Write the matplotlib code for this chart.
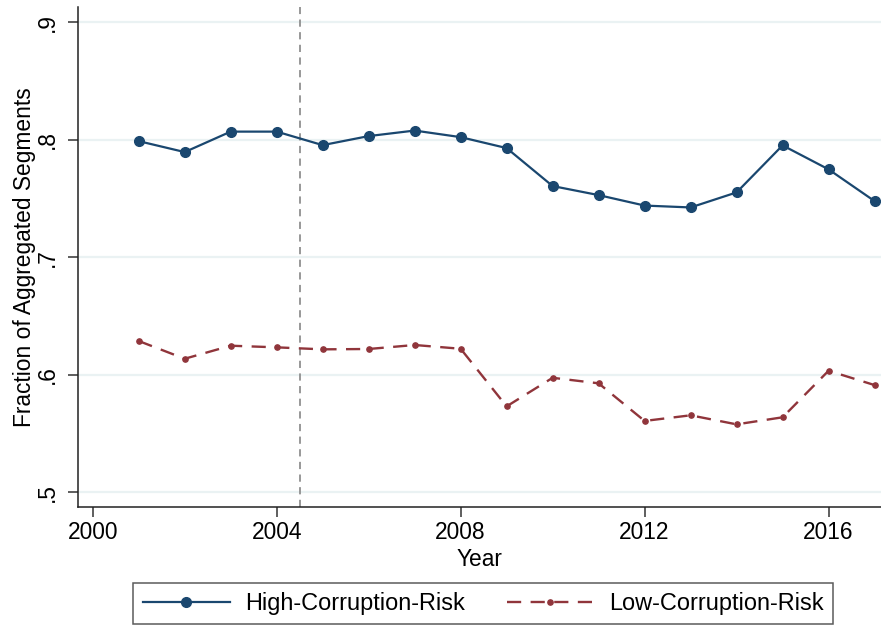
import numpy as np
import matplotlib.pyplot as plt

plt.rcParams['font.family'] = ['Liberation Sans', 'DejaVu Sans']

# Share of aggregated segments by year and corruption-risk group
years = [2001, 2002, 2003, 2004, 2005, 2006, 2007, 2008, 2009,
         2010, 2011, 2012, 2013, 2014, 2015, 2016, 2017]
high_risk = [0.7987, 0.7894, 0.8068, 0.8068, 0.7953, 0.8030, 0.8077, 0.8021, 0.7928,
             0.7605, 0.7528, 0.7439, 0.7423, 0.7551, 0.7951, 0.7747, 0.7477]
low_risk = [0.6287, 0.6136, 0.6247, 0.6233, 0.6216, 0.6219, 0.6253, 0.6221, 0.5731,
            0.5974, 0.5927, 0.5607, 0.5655, 0.5578, 0.5638, 0.6034, 0.5912]
x_ticks = [2000, 2004, 2008, 2012, 2016]
y_ticks = [0.5, 0.6, 0.7, 0.8, 0.9]
y_tick_labels = ['.5', '.6', '.7', '.8', '.9']
cutoff_year = 2004.5

navy = '#1a476f'
maroon = '#90353b'
fs = 16.4
fs_legend = 16.9

fig = plt.figure(figsize=(8.81, 6.26), dpi=100)
ax = fig.add_axes([78 / 881, 119 / 626, 803 / 881, 500 / 626])

for y in y_ticks:
    ax.axhline(y, color='#eaf2f3', lw=1.6, zorder=0)

ax.axvline(cutoff_year, color='#909090', lw=1.3, ls=(0, (4, 3)), zorder=1)

ax.plot(years, high_risk, color=navy, lw=1.6, marker='o', ms=7,
        label='High-Corruption-Risk', zorder=3, clip_on=False)
ax.plot(years, low_risk, color=maroon, lw=1.7, ls=(0, (6, 4)), marker='o', ms=3.8,
        label='Low-Corruption-Risk', zorder=3, clip_on=False)

ax.set_xlim(1999.68, 2017.14)
ax.set_ylim(0.4875, 0.9128)
ax.set_xticks(x_ticks)
ax.set_yticks(y_ticks)
ax.set_yticklabels(y_tick_labels, rotation=90, va='center')
ax.tick_params(axis='both', labelsize=fs, length=7, width=1.1, color='#333333', direction='out')
ax.tick_params(axis='y', pad=7)
ax.tick_params(axis='x', pad=3)

for side in ['top', 'right']:
    ax.spines[side].set_visible(False)
for side in ['left', 'bottom']:
    ax.spines[side].set_color('#222222')
    ax.spines[side].set_linewidth(1.1)

ax.set_xlabel('Year', fontsize=fs, labelpad=3)
ax.set_ylabel('Fraction of Aggregated Segments', fontsize=fs, labelpad=0)

leg = fig.legend(loc='center', bbox_to_anchor=(483.4 / 881, 1 - 603.5 / 626), ncol=2,
                 fontsize=fs_legend, handlelength=3.7, columnspacing=1.75, frameon=True,
                 fancybox=False, borderpad=0.4, handletextpad=0.68)
leg.get_frame().set_edgecolor('#333333')
leg.get_frame().set_linewidth(1.1)

fig.savefig('out.png', dpi=100)
